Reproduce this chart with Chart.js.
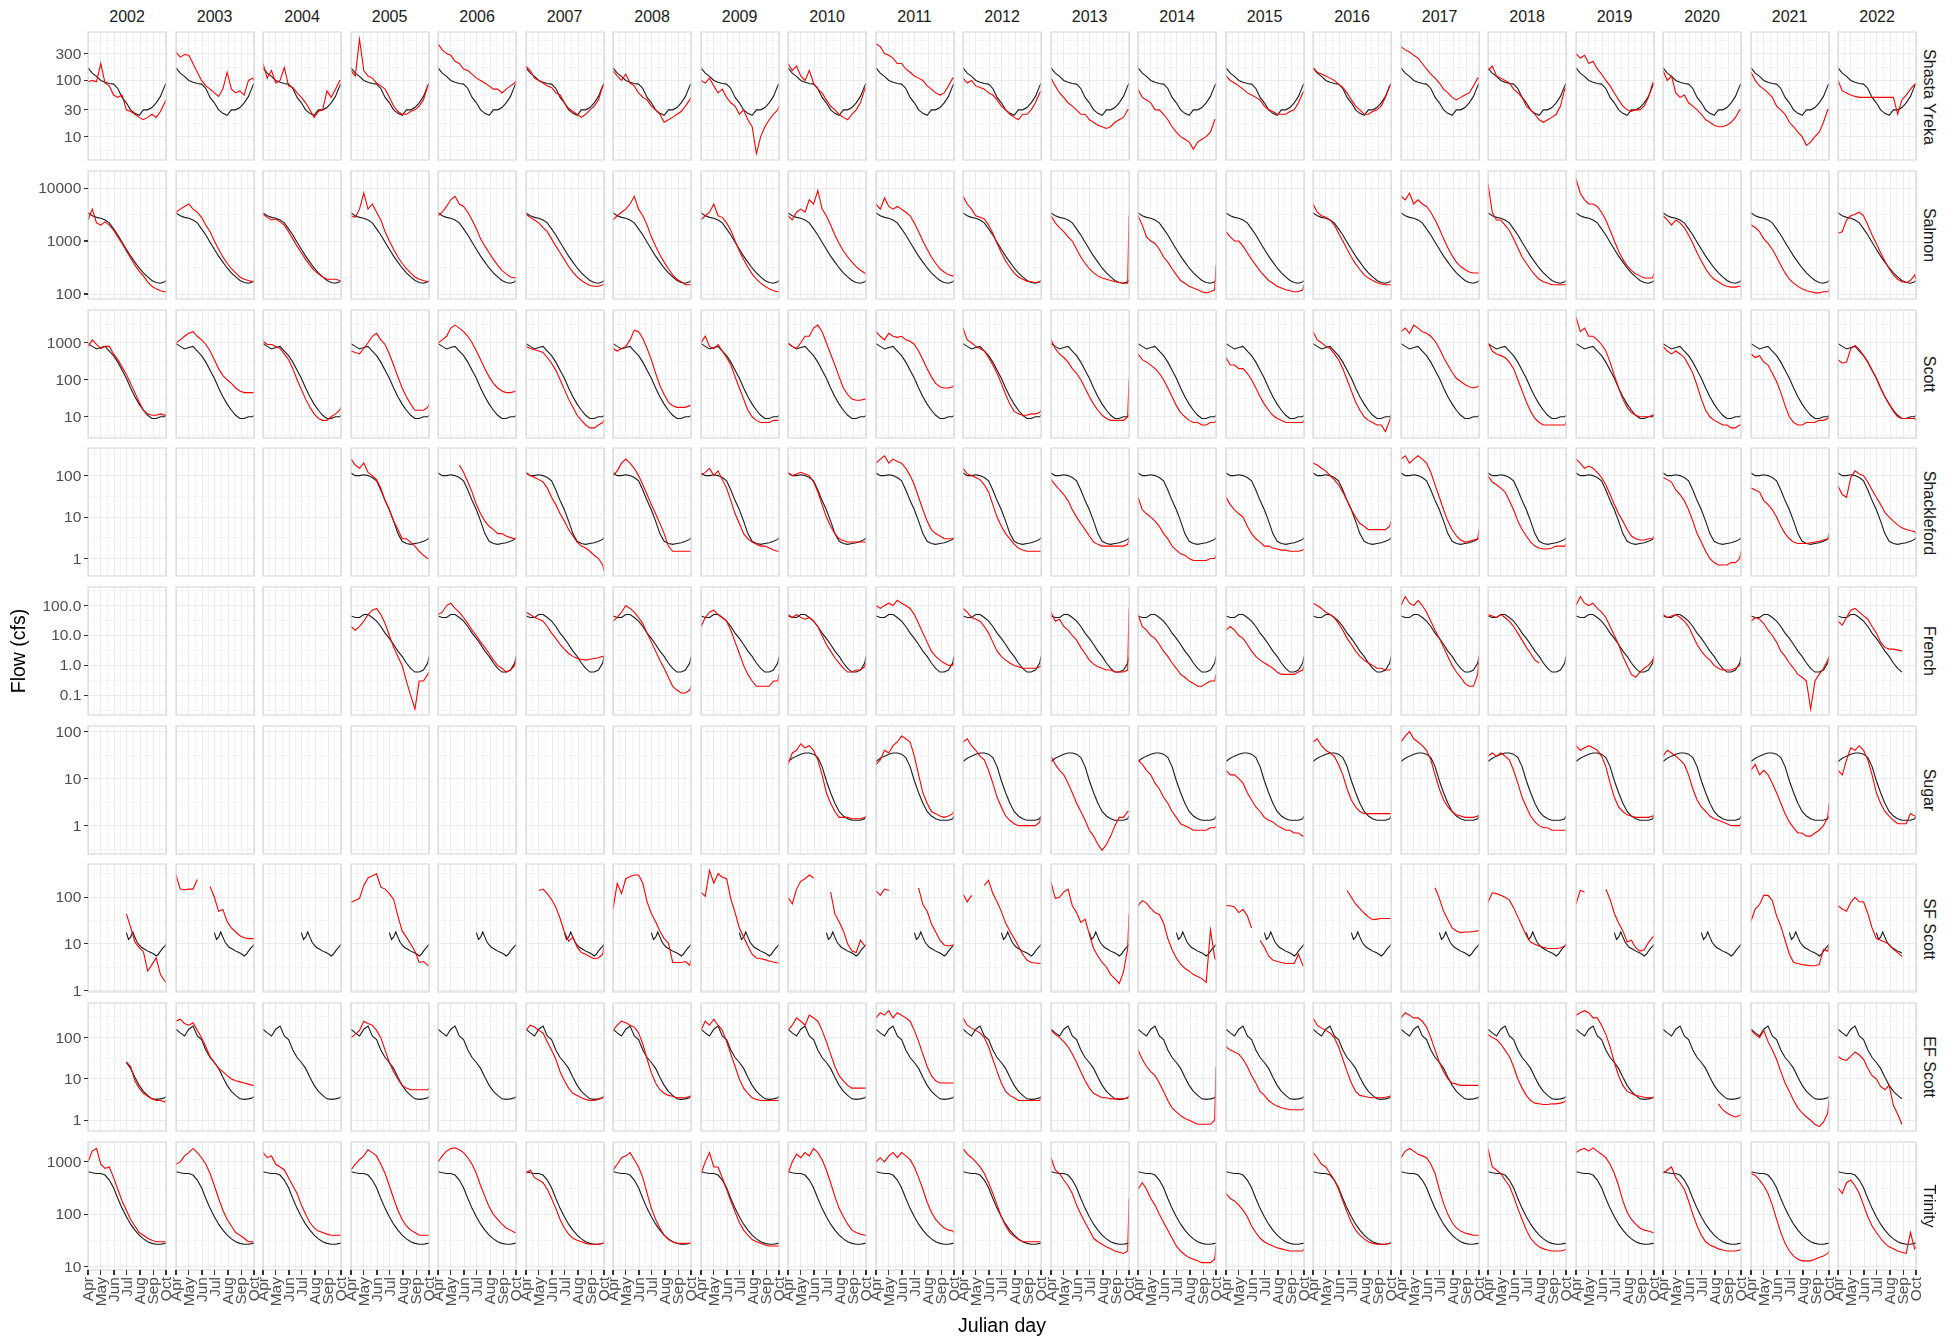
<!DOCTYPE html>
<html><head><meta charset="utf-8">
<script src="https://cdn.jsdelivr.net/npm/chart.js@4.4.1/dist/chart.umd.min.js"></script>
<style>
html,body{margin:0;padding:0;background:#fff}
body{width:1956px;height:1339px;position:relative;overflow:hidden;font-family:"Liberation Sans",Arial,Helvetica,sans-serif}
canvas{position:absolute}
.t{position:absolute;white-space:nowrap;line-height:1}
</style></head><body>
<script>
// ---------------- DATA ----------------
const YEARS = [2002,2003,2004,2005,2006,2007,2008,2009,2010,2011,2012,2013,2014,2015,2016,2017,2018,2019,2020,2021,2022];
const SITES = ["Shasta Yreka","Salmon","Scott","Shackleford","French","Sugar","SF Scott","EF Scott","Trinity"];
const DAYS = [91,101,111,121,131,141,151,161,171,181,191,201,211,221,231,241,251,261,271,274];
const MONTH_DAYS = [91,121,152,182,213,244,274];
const MONTH_LABELS = ["Apr","May","Jun","Jul","Aug","Sep","Oct"];
const n = null;

const Y_TICKS = {
  "Shasta Yreka":[10,30,100,300], "Salmon":[100,1000,10000], "Scott":[10,100,1000],
  "Shackleford":[1,10,100], "French":[0.1,1,10,100], "Sugar":[1,10,100],
  "SF Scott":[1,10,100], "EF Scott":[1,10,100], "Trinity":[10,100,1000]
};
const Y_TICK_LABELS = {
  "Shasta Yreka":["10","30","100","300"], "Salmon":["100","1000","10000"], "Scott":["10","100","1000"],
  "Shackleford":["1","10","100"], "French":["0.1","1.0","10.0","100.0"], "Sugar":["1","10","100"],
  "SF Scott":["1","10","100"], "EF Scott":["1","10","100"], "Trinity":["10","100","1000"]
};
const Y_LIMITS = {
  "Shasta Yreka":[3.84,728], "Salmon":[80.5,21000], "Scott":[2.67,7700], "Shackleford":[0.38,463],
  "French":[0.022,417], "Sugar":[0.25,131], "SF Scott":[0.93,518], "EF Scott":[0.55,689], "Trinity":[8.7,2390]
};

// reference (black) line per site
const black_ShastaYreka = [168,135,118,100,93,88,86,72,50,40,30,26,24,30,30,33,40,52,80,88];
const black_Salmon      = [3400,3000,2800,2700,2500,2200,1700,1300,950,700,520,400,310,250,210,180,165,160,170,180];
const black_Scott       = [950,800,680,750,800,600,450,300,180,110,60,35,22,15,11,9,9,10,10,11];
const black_Shackleford = [115,100,100,105,100,90,75,45,25,15,8,4,2.6,2.3,2.2,2.3,2.4,2.6,2.9,3.2];
const black_French      = [45,40,40,50,50,40,30,20,12,8,5,3,2,1.2,0.8,0.6,0.6,0.7,1.2,2];
const black_Sugar       = [23,27,30,33,35,35,33,28,18,9,5,3,2,1.6,1.4,1.3,1.3,1.3,1.4,1.6];
const black_EFScott     = [160,130,110,160,190,110,90,50,33,25,18,11,7,5,4,3.3,3.2,3.3,3.5,3.8];
const black_Trinity     = [650,620,600,600,560,450,320,200,130,90,65,50,40,34,30,28,27,27,28,28];
// SF Scott reference only exists from July, read at a finer step
const SF_BLACK_DAYS     = [181,186,191,196,201,206,211,216,221,226,231,236,241,246,251,256,261,266,271,274];
const black_SFScott     = [17.5,12.5,14,18,14,11,9.5,8.5,8,7.5,7,6.7,6.4,6,5.5,6,7,8,9,9.8];

// visible span of the black line where it differs from the whole season
const BLACK_SPAN = {
  "Shackleford": {2002:null,2003:null,2004:null},
  "French": {2002:null,2003:null,2004:null,2022:[91,241]},
  "Sugar": {2002:null,2003:null,2004:null,2005:null,2006:null,2007:null,2008:null,2009:null},
  "SF Scott": {2022:[91,241]},
  "EF Scott": {2002:[181,274],2022:[91,241]}
};

// yearly flows (red) per site
const red_ShastaYreka = {
2002:[95,100,95,200,90,80,55,50,55,30,28,25,22,20,22,25,22,28,40,45],
2003:[320,260,290,280,200,140,100,80,70,60,52,70,140,70,60,65,55,100,110,100],
2004:[200,110,150,90,100,170,80,75,60,50,40,30,22,28,30,65,50,70,100,100],
2005:[150,120,540,150,120,110,90,80,70,50,35,28,25,25,28,30,35,45,80,90],
2006:[450,350,300,280,220,200,160,150,130,110,100,90,80,70,70,60,70,80,90,100],
2007:[180,150,110,100,90,80,75,60,55,40,32,28,25,22,25,30,35,45,80,80],
2008:[150,120,100,130,90,80,60,50,45,35,30,25,18,20,22,25,28,35,45,50],
2009:[100,90,110,80,60,70,50,40,35,25,30,20,15,5,10,15,20,25,30,35],
2010:[200,150,180,120,100,150,90,70,60,45,35,30,25,22,20,25,30,40,70,75],
2011:[450,400,300,280,250,200,200,160,140,120,110,100,80,70,60,55,60,80,110,110],
2012:[110,90,100,80,75,70,60,55,45,35,30,25,22,20,25,25,30,40,60,65],
2013:[110,80,60,50,40,35,30,25,25,20,18,16,15,14,15,18,20,22,30,30],
2014:[70,50,45,40,30,30,25,20,15,12,10,9,8,6,8,9,10,12,20,20],
2015:[120,100,90,80,70,60,55,50,45,35,30,28,25,25,25,28,30,40,60,65],
2016:[170,140,130,120,110,100,85,75,60,45,35,30,25,25,28,30,35,50,80,80],
2017:[400,350,320,280,250,200,160,130,110,90,70,60,50,45,50,55,60,80,110,110],
2018:[150,180,120,110,100,90,70,60,50,35,30,25,20,18,20,22,25,35,70,75],
2019:[300,250,280,200,220,160,130,100,80,60,45,35,30,28,30,30,35,50,90,90],
2020:[150,100,120,60,50,55,40,35,30,25,20,18,16,15,15,16,18,22,30,30],
2021:[140,100,80,70,60,50,35,30,25,18,15,12,10,7,8,10,12,18,30,30],
2022:[100,65,60,55,52,50,50,50,50,50,50,50,50,50,25,45,55,70,85,85]
};
const red_Salmon = {
2002:[2500,4000,2200,2000,2300,2000,1600,1200,900,650,480,350,270,220,170,140,125,115,110,110],
2003:[3500,4000,4500,5000,4000,3500,2800,2000,1500,1000,700,500,380,300,250,210,190,180,170,170],
2004:[3200,2800,2500,2600,2300,2000,1500,1100,800,600,450,350,280,240,210,190,190,190,180,180],
2005:[3000,2800,4000,8000,4000,5000,3500,2500,1500,1000,700,500,380,300,250,210,190,180,170,170],
2006:[3000,3500,4500,6000,7000,5000,4500,3500,2500,1700,1100,800,600,450,350,280,240,210,200,200],
2007:[3200,2800,2500,2200,1800,1500,1100,800,600,450,330,260,210,180,160,145,140,140,150,150],
2008:[2500,3000,3500,4000,5000,7000,4000,3000,2000,1200,800,550,400,300,230,190,170,150,150,150],
2009:[2500,3000,3500,5000,3000,2800,2200,1600,1000,650,450,320,240,190,160,140,125,115,110,110],
2010:[3000,2500,3500,4000,3500,6000,5000,9000,4000,3000,2000,1300,900,650,500,400,330,280,250,240],
2011:[5000,4000,6500,4500,4000,4500,4000,3500,3000,2200,1500,1000,700,500,380,300,260,230,220,220],
2012:[7000,5000,4000,3000,2800,2600,2000,1400,900,600,420,320,250,210,190,175,170,165,170,170],
2013:[3000,2200,1800,1500,1200,1000,700,500,380,300,250,220,200,190,180,170,165,160,160,3000],
2014:[3000,2000,1200,1000,900,700,500,400,300,230,180,160,140,130,120,110,105,110,120,350],
2015:[1500,1200,1000,1000,800,600,450,350,270,220,180,160,140,130,120,115,110,110,120,150],
2016:[5000,3500,3000,2800,2500,2000,1400,1000,700,500,370,290,230,200,180,165,155,150,150,150],
2017:[7000,6000,8000,5000,6000,5000,4500,3500,2500,1700,1100,750,530,400,330,290,260,250,250,250],
2018:[12000,3500,2500,2500,2000,1600,1100,750,500,380,290,230,190,170,160,150,150,150,150,150],
2019:[15000,8000,6000,5000,5000,4500,3500,2500,1600,1000,650,450,340,280,240,220,200,200,200,250],
2020:[3000,2500,2000,2500,2200,1800,1300,900,600,420,300,230,190,170,150,140,135,135,140,140],
2021:[2000,1800,1500,1100,900,700,500,350,250,190,160,140,125,115,110,105,105,110,110,120],
2022:[1400,1500,2500,3000,3200,3500,3000,2000,1300,900,600,420,300,230,190,170,165,180,230,190]
};
const red_Scott = {
2002:[800,1200,900,700,800,800,500,350,220,140,80,45,25,15,12,11,11,12,11,12],
2003:[1000,1200,1500,1800,2000,1500,1200,900,600,350,200,130,100,80,60,50,45,45,45,45],
2004:[1100,900,900,800,700,500,350,200,100,55,30,18,12,9,8,8,10,12,15,18],
2005:[600,550,500,700,1000,1500,1800,1200,900,500,250,120,60,35,22,15,15,15,18,22],
2006:[1000,1200,1500,2500,3000,2500,2000,1500,1000,600,350,200,120,80,60,50,45,45,48,50],
2007:[800,700,650,600,550,400,280,180,100,55,30,18,11,8,6,5,5,6,7,8],
2008:[700,600,700,800,1200,2200,2000,1300,700,350,150,70,40,25,20,18,18,18,20,20],
2009:[1000,1500,800,700,900,600,400,250,120,60,30,15,10,8,7,7,7,8,8,8],
2010:[1000,800,700,1000,1500,1500,2500,3000,2000,1000,500,250,120,60,40,30,28,28,30,30],
2011:[2000,1500,1200,1800,1500,1400,1500,1200,1100,900,600,350,200,120,80,65,60,60,65,70],
2012:[2500,1200,1000,800,700,600,400,250,150,80,40,22,14,12,11,11,12,12,13,15],
2013:[1200,700,500,400,300,200,150,100,60,35,22,15,11,9,8,8,8,8,10,100],
2014:[500,350,300,250,200,150,100,60,35,20,13,10,8,7,7,6,6,7,7,8],
2015:[400,250,250,200,200,150,100,60,35,22,15,11,9,8,7,7,7,7,7,8],
2016:[2000,1200,1000,800,700,500,350,200,100,50,25,15,10,8,7,6,6,4,8,10],
2017:[2000,2500,1800,3000,2500,2000,1800,1500,1100,700,400,250,160,110,90,75,65,60,65,70],
2018:[1000,600,500,450,400,300,200,100,50,25,14,9,7,6,6,6,6,6,6,7],
2019:[5000,2000,2500,1500,1500,1200,900,600,300,130,60,30,18,13,11,10,10,10,11,12],
2020:[800,600,500,600,500,400,250,150,70,30,15,10,8,7,6,6,5,5,6,6],
2021:[500,400,450,300,250,150,90,45,20,10,7,6,6,7,7,7,8,8,9,10],
2022:[350,280,300,700,850,650,450,300,180,110,60,35,22,14,10,9,9,9,9,8]
};
const red_Shackleford = {
2005:[250,180,150,200,120,100,80,50,25,15,8,5,3,3,2.5,2,1.5,1.2,1,1],
2006:[n,n,n,n,n,180,120,70,40,20,12,8,6,5,4,4,3.5,3.2,3,3],
2007:[120,100,90,80,70,50,30,20,12,8,5,3.5,2.5,2,1.8,1.5,1.2,1,0.7,0.5],
2008:[100,130,200,250,200,150,100,60,35,20,12,7,4,2,1.5,1.5,1.5,1.5,1.5,1.5],
2009:[100,120,150,100,130,80,50,25,12,7,4,3,2.5,2.2,2,2,1.8,1.6,1.5,1.5],
2010:[120,100,110,120,110,100,70,40,20,10,6,4,3,2.7,2.5,2.5,2.5,2.5,2.5,2.5],
2011:[200,250,300,200,250,220,200,150,100,60,30,15,8,5,4,3.5,3,3,3,3],
2012:[150,110,100,90,80,60,40,20,10,6,4,3,2.2,1.8,1.6,1.5,1.5,1.5,1.5,1.5],
2013:[80,60,45,35,25,15,10,7,5,3.5,2.5,2.2,2,2,2,2,2,2,2.2,3],
2014:[30,15,12,10,8,6,4,3,2,1.6,1.3,1.2,1,0.9,0.9,0.9,0.9,1,1,1.2],
2015:[30,20,15,12,10,6,4,3,2.5,2,2,1.8,1.7,1.6,1.6,1.5,1.5,1.5,1.6,1.7],
2016:[200,180,150,130,100,80,60,40,25,15,10,7,6,5,5,5,5,5,6,8],
2017:[250,300,200,250,300,250,200,120,60,30,15,8,5,3.5,2.8,2.5,2.6,2.8,3,5],
2018:[100,70,60,50,40,25,15,8,5,3.5,2.5,2,1.8,1.7,1.7,1.8,2,2,2,2.2],
2019:[250,200,150,170,150,120,90,60,35,20,12,8,5,3.5,3,2.8,2.8,3,3,3.5],
2020:[90,80,70,45,35,25,15,8,4,2.5,1.5,1,0.8,0.7,0.7,0.7,0.8,0.8,1,1.5],
2021:[50,45,40,25,20,15,10,6,4,3,2.5,2.3,2.3,2.3,2.4,2.5,2.6,2.8,3,4],
2022:[56,35,30,90,130,110,100,70,45,30,20,13,10,8,6.5,5.5,5,4.7,4.5,4]
};
const red_French = {
2005:[20,15,20,30,50,70,80,50,25,10,4,2,1,0.3,0.1,0.035,0.3,0.3,0.5,0.6],
2006:[50,60,100,120,80,60,40,25,15,10,6,4,2.5,1.5,1,0.8,0.6,0.7,1,1.5],
2007:[60,50,40,35,30,20,12,8,5,3.5,2.5,2,1.7,1.6,1.5,1.6,1.7,1.8,2,2],
2008:[30,40,60,100,80,60,40,25,12,6,3,1.5,0.8,0.4,0.2,0.15,0.12,0.12,0.15,0.2],
2009:[20,40,60,70,50,40,30,15,6,2.5,1,0.5,0.3,0.2,0.2,0.2,0.2,0.3,0.3,0.5],
2010:[50,40,50,40,35,40,30,20,10,5,3,1.8,1.2,0.8,0.6,0.6,0.7,0.7,0.9,1.2],
2011:[100,80,100,120,100,150,120,100,80,50,25,12,6,3,2,1.5,1.2,1,1,1.2],
2012:[80,60,40,35,30,20,12,6,3,2,1.5,1.2,1,0.9,0.8,0.8,0.8,0.8,0.9,1],
2013:[60,30,35,20,15,10,7,4,2.5,1.5,1.1,0.9,0.8,0.7,0.7,0.6,0.6,0.6,0.7,80],
2014:[50,20,15,10,8,5,3,2,1.2,0.8,0.5,0.4,0.3,0.25,0.2,0.2,0.25,0.3,0.3,0.5],
2015:[15,20,15,10,8,5,3,2,1.5,1.2,1,0.8,0.6,0.5,0.5,0.5,0.5,0.6,0.7,1],
2016:[120,100,80,60,50,40,25,15,8,5,3,2,1.5,1.2,1,0.8,0.8,0.7,0.7,0.8],
2017:[100,200,120,100,150,100,60,30,15,8,4,2,1,0.6,0.4,0.25,0.2,0.2,0.5,2],
2018:[50,45,40,50,40,30,20,12,7,4,2.5,1.5,1.2,n,n,n,n,n,n,n],
2019:[100,200,120,100,120,80,60,40,20,10,5,2,1,0.5,0.4,0.6,0.8,1,1.5,2],
2020:[50,40,45,50,40,30,20,10,5,3,2,1.5,1,0.8,0.7,0.7,0.7,0.8,1,1.2],
2021:[30,40,35,25,15,10,6,3,2,1.2,0.8,0.5,0.4,0.3,0.035,0.3,0.5,0.8,1.5,2],
2022:[30,22,40,70,80,60,45,35,20,12,6,4,3.5,3.5,3.3,3,n,n,n,n]
};
const red_Sugar = {
2010:[20,35,40,55,45,50,40,25,12,5,3,2,1.5,1.5,1.5,1.4,1.4,1.4,1.5,1.5],
2011:[20,25,40,35,50,60,80,70,60,30,12,5,3,2,1.8,1.6,1.5,1.6,1.8,2],
2012:[60,70,50,40,30,25,15,8,4,2.5,1.6,1.3,1.1,1,1,1,1,1,1.2,1.5],
2013:[30,20,15,12,8,5,3,2,1.3,0.8,0.6,0.4,0.3,0.4,0.6,1,1.5,1.5,2,2],
2014:[25,20,15,12,8,6,4,3,2,1.5,1.1,1,0.9,0.8,0.8,0.8,0.8,0.9,0.9,1],
2015:[15,12,12,10,8,5,3.5,2.5,2,1.5,1.3,1.2,1,0.9,0.8,0.8,0.7,0.7,0.6,0.6],
2016:[60,70,50,40,35,30,20,12,6,3.5,2.5,2,1.8,1.8,1.8,1.8,1.8,1.8,1.8,1.8],
2017:[60,80,100,70,60,50,40,25,12,6,3.5,2.5,2,1.7,1.6,1.5,1.5,1.5,1.6,1.7],
2018:[30,35,30,35,30,25,15,8,4,2.5,1.6,1.2,1,0.9,0.9,0.8,0.8,0.8,0.8,0.8],
2019:[50,40,45,50,45,40,30,18,8,4,2.5,2,1.7,1.6,1.5,1.5,1.5,1.5,1.6,1.7],
2020:[30,40,35,30,25,20,12,6,3.5,2.5,2,1.6,1.4,1.3,1.2,1.1,1,1,1,1.1],
2021:[15,20,12,15,12,8,5,3,1.8,1.2,0.9,0.7,0.7,0.6,0.6,0.7,0.8,1,1.5,3],
2022:[15,12,25,45,40,50,40,25,12,5,3,2,1.6,1.3,1.1,1.1,1.1,1.8,1.6,1.6]
};
const red_SFScott = {
2002:[n,n,n,n,n,n,n,n,n,44,23,11,8.3,6.8,2.6,3.6,5,2.2,1.6,1.5],
2003:[300,150,145,150,150,240,n,n,170,100,50,55,30,22,18,15,13.5,13,13,13],
2005:[78,85,95,180,260,290,320,165,150,120,90,40,19,14,10,7,4,4.2,3.5,3.3],
2007:[n,n,n,140,150,120,90,61,35,18,11.5,14,8.5,6.5,6,5.3,4.8,5,6,9],
2008:[56,200,120,250,280,300,300,200,80,45,30,19,13,10.5,4,4,4,4.2,3.5,4.5],
2009:[128,105,380,200,320,270,250,92,47,22,14,9,6,5,4.8,4.6,4.3,4.1,3.9,3.9],
2010:[100,72,150,220,250,300,260,n,n,n,130,44,30,19,10,7,6.5,12,9,9],
2011:[140,110,150,140,n,n,n,n,n,n,160,70,50,27,18,12,9.5,9,9.5,9.8],
2012:[118,80,110,n,n,180,230,120,80,50,28,19,13,9,6,4.5,4,3.9,3.8,3.8],
2013:[210,95,100,130,150,66,47,29,34,16,8,5.5,4,3.2,2.2,1.8,1.4,2.5,8,45],
2014:[66,85,75,58,47,43,28,13,7.5,5,3.7,3,2.6,2.2,2,1.8,1.5,20,5,4.6],
2015:[66,66,62,47,55,40,22,n,12,8.5,5.5,4.5,4.2,4,3.8,3.8,3.8,6,3.5,3.4],
2016:[n,n,n,n,n,n,n,n,140,100,72,57,46,38,33,34,35,35,35,35],
2017:[n,n,n,n,n,n,n,n,160,95,50,33,22,19,17.5,18,18,18.5,19,19],
2018:[78,125,120,110,100,88,60,38,24,15,11,9.8,9,8.5,8,8,8,8.2,9,9.8],
2019:[72,140,130,n,n,n,n,150,90,45,28,19,11,12,8.3,7,7.5,10.7,14,15],
2021:[31,56,70,110,110,85,40,24,12,6,4,3.8,3.6,3.5,3.4,3.4,3.6,7.6,7,9],
2022:[66,56,50,78,100,80,80,45,22,13,12,11,9.8,7.6,6.5,5.4,n,n,n,n]
};
const red_EFScott = {
2002:[n,n,n,n,n,n,n,n,n,26,20,9,6,4.5,3.8,3.3,3,3,2.8,3],
2003:[250,280,220,200,230,150,100,60,35,25,18,15,12,10,9,8.5,8,7.5,7,7],
2005:[100,120,150,250,220,200,150,100,50,25,15,10,7,6,5.5,5.5,5.5,5.5,5.5,6],
2007:[150,200,180,150,130,80,50,30,15,9,6,4.5,4,3.5,3.2,3,3,3.2,3.5,4],
2008:[150,200,250,230,200,180,130,70,30,14,8,5.5,4.5,4,3.8,3.5,3.5,3.5,3.8,4],
2009:[150,250,200,280,200,150,80,40,20,10,6,4.5,3.5,3.2,3,3,3,3,3,3],
2010:[150,200,300,250,200,350,300,250,150,80,40,20,12,9,7,6,6,6,6,6],
2011:[300,400,350,450,300,400,350,300,250,150,80,40,20,12,9,8,8,8,8,8],
2012:[300,200,170,150,130,100,60,30,15,8,5,4,3.5,3,3,3,3,3,3,3.5],
2013:[150,120,100,80,60,40,25,15,9,6,4.5,4,3.5,3.5,3.3,3.3,3.3,3.3,3.5,4],
2014:[50,30,20,15,12,8,5,3,2,1.6,1.3,1.1,1,0.9,0.8,0.8,0.8,0.8,1,20],
2015:[60,50,45,40,30,20,12,8,5,4,3,2.5,2.2,2,1.9,1.8,1.8,1.8,1.8,2],
2016:[300,200,170,150,130,100,60,30,15,8,5,4,3.8,3.6,3.5,3.5,3.5,3.6,3.8,4],
2017:[300,400,350,300,300,250,180,100,50,25,15,10,8,7.5,7,7,7,7,7,7],
2018:[120,100,90,70,50,35,20,10,6,4,3,2.6,2.5,2.4,2.4,2.5,2.5,2.6,2.8,3],
2019:[350,400,450,400,300,300,200,120,60,25,12,7,5,4.5,4,3.8,3.6,3.5,3.5,3.5],
2020:[n,n,n,n,n,n,n,n,n,n,n,n,n,2.5,1.8,1.5,1.3,1.2,1.3,1.4],
2021:[150,120,100,150,80,50,30,15,8,5,3,2,1.5,1.2,1,0.8,0.7,0.9,1.5,3],
2022:[35,30,28,35,45,38,30,18,12,10,6.6,5.5,7,2.3,1.4,0.8,n,n,n,n]
};
const red_Trinity = {
2002:[1000,1600,1800,900,750,800,500,300,180,120,80,60,45,40,35,32,30,30,30,30],
2003:[900,1000,1300,1500,1800,1500,1200,900,600,350,200,120,80,60,45,40,35,30,30,30],
2004:[1500,1200,1300,900,800,700,500,350,250,150,100,70,55,48,45,42,40,40,40,40],
2005:[700,900,1100,1300,1700,1500,1300,900,600,350,200,120,80,60,50,45,40,40,40,40],
2006:[1000,1300,1600,1800,1850,1700,1500,1200,900,600,350,220,140,100,80,65,55,50,45,45],
2007:[600,700,500,450,400,300,200,130,80,55,42,35,32,30,28,27,27,27,28,30],
2008:[700,900,1200,1300,1500,1100,800,500,250,130,80,55,40,33,30,28,28,28,28,28],
2009:[600,1000,1500,800,800,500,300,180,110,70,50,40,33,30,28,26,25,25,25,25],
2010:[600,1000,1400,1200,1500,1300,1800,1500,1100,700,400,220,130,90,65,50,45,42,40,40],
2011:[1000,1200,1000,1300,1500,1200,1500,1300,1100,800,500,300,170,110,80,65,55,50,48,45],
2012:[1800,1400,1200,1000,800,600,400,250,150,90,60,45,38,33,30,30,30,30,30,30],
2013:[1200,700,600,450,350,250,150,100,70,50,35,30,27,24,22,20,19,18,20,200],
2014:[300,400,300,200,150,100,70,50,35,25,20,17,15,14,13,12,12,12,14,25],
2015:[250,200,180,150,120,90,60,45,35,30,27,25,23,22,21,20,20,20,20,22],
2016:[1500,1200,900,800,600,450,300,180,110,70,50,40,34,30,28,27,27,27,28,30],
2017:[1200,1600,1800,1600,1400,1300,1200,900,600,300,160,100,70,55,48,44,42,40,40,40],
2018:[1800,800,700,600,450,350,220,130,80,50,35,28,24,22,21,20,20,20,21,22],
2019:[1500,1700,1800,1600,1850,1600,1400,1200,900,600,350,180,110,80,65,55,50,48,45,45],
2020:[600,700,800,500,400,300,180,100,60,40,30,26,24,22,21,20,20,20,21,22],
2021:[600,550,450,350,250,150,80,45,28,20,16,14,13,13,13,14,15,16,18,20],
2022:[320,250,400,450,350,250,150,90,60,45,35,28,24,22,20,19,18,45,22,24]
};

const BLACK = {"Shasta Yreka":black_ShastaYreka,"Salmon":black_Salmon,"Scott":black_Scott,"Shackleford":black_Shackleford,
  "French":black_French,"Sugar":black_Sugar,"SF Scott":black_SFScott,"EF Scott":black_EFScott,"Trinity":black_Trinity};
const BLACK_DAYS = {"SF Scott":SF_BLACK_DAYS};
const RED = {"Shasta Yreka":red_ShastaYreka,"Salmon":red_Salmon,"Scott":red_Scott,"Shackleford":red_Shackleford,
  "French":red_French,"Sugar":red_Sugar,"SF Scott":red_SFScott,"EF Scott":red_EFScott,"Trinity":red_Trinity};

// ---------------- LAYOUT ----------------
const P = {x0:88.3, dx:87.5, w:77.5, y0:32.3, dy:138.7, h:128.4};
const GRID_MAJOR = '#ebebeb', GRID_MINOR = '#f4f4f4', BORDER = '#d6d6d6';
const TICK_COLOR = '#333333', TICK_TEXT = '#4d4d4d';

function logMinors(majors, lo, hi){
  const L = majors.map(v=>Math.log10(v));
  const ext = [L[0]-(L[1]-L[0]), ...L, L[L.length-1]+(L[L.length-1]-L[L.length-2])];
  const out = [];
  for (let i=0;i<ext.length-1;i++){ const v = Math.pow(10,(ext[i]+ext[i+1])/2); if (v>lo && v<hi) out.push(v); }
  return out;
}
const X_MINORS = MONTH_DAYS.slice(0,-1).map((d,i)=>(d+MONTH_DAYS[i+1])/2);

const borderPlugin = { id:'panelBorder', afterDatasetsDraw(chart){
  const a = chart.chartArea, ctx = chart.ctx;
  ctx.save(); ctx.strokeStyle = BORDER; ctx.lineWidth = 1.1;
  ctx.strokeRect(a.left, a.top, a.right-a.left, a.bottom-a.top); ctx.restore();
}};

function addText(txt, css){ const d=document.createElement('div'); d.className='t'; d.textContent=txt; Object.assign(d.style, css); document.body.appendChild(d); return d; }

SITES.forEach((site, r)=>{
  const [lo, hi] = Y_LIMITS[site];
  const majors = Y_TICKS[site];
  const minors = logMinors(majors, lo, hi);
  const bDays = BLACK_DAYS[site] || DAYS;
  YEARS.forEach((yr, c)=>{
    const px = P.x0 + c*P.dx, py = P.y0 + r*P.dy;
    const cv = document.createElement('canvas');
    const left = Math.round(px)-1, top = Math.round(py)-1;
    const W = Math.round(P.w)+2, H = Math.round(P.h)+2;
    cv.width = W; cv.height = H;
    cv.style.left = left+'px'; cv.style.top = top+'px'; cv.style.width = W+'px'; cv.style.height = H+'px';
    document.body.appendChild(cv);

    const datasets = [];
    const red = RED[site][yr];
    if (red) datasets.push({data: DAYS.map((d,i)=>({x:d,y:red[i]})), borderColor:'#ff0000', borderWidth:1.1});
    let span = [91,274];
    const ex = BLACK_SPAN[site];
    if (ex && Object.prototype.hasOwnProperty.call(ex, yr)) span = ex[yr];
    if (span) {
      const b = BLACK[site];
      datasets.push({data: bDays.map((d,i)=>({x:d, y:(d>=span[0] && d<=span[1]) ? b[i] : null})), borderColor:'#1a1a1a', borderWidth:1.1});
    }
    datasets.forEach(ds=>{ ds.pointRadius=0; ds.tension=0; ds.spanGaps=false; ds.fill=false; });

    const chart = new Chart(cv, {
      type:'line',
      data:{datasets},
      options:{
        animation:false, responsive:false, devicePixelRatio:1, events:[],
        layout:{padding:1},
        plugins:{legend:{display:false}, tooltip:{enabled:false}},
        scales:{
          x:{type:'linear', min:91, max:274, bounds:'data',
             ticks:{display:false}, border:{display:false},
             grid:{drawTicks:false, color:(cx)=>cx.tick && cx.tick.mn ? GRID_MINOR : GRID_MAJOR, lineWidth:1},
             afterBuildTicks:(s)=>{ s.ticks = MONTH_DAYS.map(v=>({value:v})).concat(X_MINORS.map(v=>({value:v, mn:true}))); },
             afterFit:(s)=>{ s.height = 0; }},
          y:{type:'logarithmic', min:lo, max:hi, bounds:'data',
             ticks:{display:false}, border:{display:false},
             grid:{drawTicks:false, color:(cx)=>cx.tick && cx.tick.mn ? GRID_MINOR : GRID_MAJOR, lineWidth:1},
             afterBuildTicks:(s)=>{ s.ticks = majors.map(v=>({value:v})).concat(minors.map(v=>({value:v, mn:true}))); },
             afterFit:(s)=>{ s.width = 0; }}
        }
      },
      plugins:[borderPlugin]
    });

    // strip labels
    if (r===0) addText(String(yr), {left:(px+P.w/2)+'px', top:'17px', transform:'translate(-50%,-50%)', fontSize:'16px', color:'#1a1a1a'});
    if (c===YEARS.length-1) addText(site, {left:'1929px', top:(py+P.h/2)+'px', transform:'translate(-50%,-50%) rotate(90deg)', fontSize:'16px', color:'#1a1a1a'});
    // y axis ticks / labels
    if (c===0){
      majors.forEach((v,k)=>{
        const yy = top + chart.scales.y.getPixelForValue(v);
        const tk = document.createElement('div');
        Object.assign(tk.style,{position:'absolute',left:(px-4.5)+'px',top:(yy-0.55)+'px',width:'4.5px',height:'1.1px',background:TICK_COLOR});
        document.body.appendChild(tk);
        addText(Y_TICK_LABELS[site][k], {left:(px-7)+'px', top:yy+'px', transform:'translate(-100%,-50%)', fontSize:'15.5px', color:TICK_TEXT});
      });
    }
    // x axis ticks / labels
    if (r===SITES.length-1){
      MONTH_DAYS.forEach((d,k)=>{
        const xx = left + chart.scales.x.getPixelForValue(d);
        const by = py + P.h;
        const tk = document.createElement('div');
        Object.assign(tk.style,{position:'absolute',left:(xx-0.55)+'px',top:by+'px',width:'1.1px',height:'4.5px',background:TICK_COLOR});
        document.body.appendChild(tk);
        addText(MONTH_LABELS[k], {left:xx+'px', top:(by+7)+'px', transformOrigin:'0 0', transform:'rotate(-90deg) translate(-100%,-50%)', fontSize:'15.5px', color:TICK_TEXT});
      });
    }
  });
});

addText('Flow (cfs)', {left:'19px', top:'651px', transform:'translate(-50%,-50%) rotate(-90deg)', fontSize:'19.5px', color:'#000'});
addText('Julian day', {left:'1002px', top:'1326px', transform:'translate(-50%,-50%)', fontSize:'19.5px', color:'#000'});
</script>
</body></html>
